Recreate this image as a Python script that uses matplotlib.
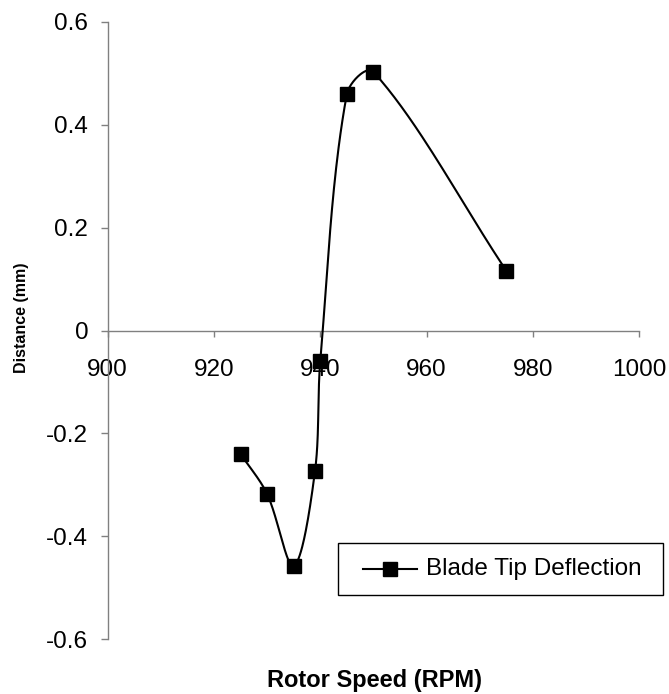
import matplotlib
matplotlib.use("Agg")
import matplotlib.pyplot as plt
import numpy as np
from matplotlib.lines import Line2D
from matplotlib.patches import Rectangle
from matplotlib.ticker import FormatStrFormatter

plt.rcParams["font.family"] = ["Liberation Sans", "DejaVu Sans"]
plt.rcParams["axes.unicode_minus"] = False

# data
rotor_speed = [925, 930, 935, 939, 940, 945, 950, 975]
deflection = [-0.240, -0.318, -0.458, -0.274, -0.060, 0.460, 0.503, 0.116]
x_ticks = [900, 920, 940, 960, 980, 1000]
y_ticks = [-0.6, -0.4, -0.2, 0, 0.2, 0.4, 0.6]
series_name = "Blade Tip Deflection"

W, H = 669, 694
fig = plt.figure(figsize=(W / 100, H / 100), dpi=100)
left, right, top, bottom = 107.6, 639.3, 22.0, 639.0
ax = fig.add_axes([left / W, 1 - bottom / H, (right - left) / W, (bottom - top) / H])
ax.set_xlim(900, 1000)
ax.set_ylim(-0.6, 0.6)


def smooth_curve(xs, ys, n=40):
    # smoothed line like a spreadsheet chart: length-weighted Bezier in pixel space
    aw, ah = right - left, bottom - top
    px = (np.asarray(xs, float) - 900) / 100 * aw
    py = (np.asarray(ys, float) + 0.6) / 1.2 * ah
    pts = np.column_stack([px, py])
    ext = np.vstack([pts[0], pts, pts[-1]])
    out = []
    t = np.linspace(0, 1, n)[:, None]
    for i in range(len(pts) - 1):
        p0, p1, p2, p3 = ext[i], ext[i + 1], ext[i + 2], ext[i + 3]
        d01 = np.hypot(*(p1 - p0))
        d12 = np.hypot(*(p2 - p1))
        d23 = np.hypot(*(p3 - p2))
        c1 = p1 + (p2 - p0) / 3 * d12 / (d01 + d12)
        c2 = p2 - (p3 - p1) / 3 * d12 / (d12 + d23)
        seg = ((1 - t) ** 3) * p1 + 3 * ((1 - t) ** 2) * t * c1 + 3 * (1 - t) * t ** 2 * c2 + t ** 3 * p2
        out.append(seg if i == 0 else seg[1:])
    out = np.vstack(out)
    return out[:, 0] / aw * 100 + 900, out[:, 1] / ah * 1.2 - 0.6


cx, cy = smooth_curve(rotor_speed, deflection)
ax.plot(cx, cy, "-", color="black", lw=1.5, zorder=5, clip_on=False)
ax.plot(rotor_speed, deflection, "s", color="black", ms=9.5, zorder=6, clip_on=False)

for side in ["top", "right"]:
    ax.spines[side].set_visible(False)
ax.spines["bottom"].set_position(("data", 0))
for side in ["left", "bottom"]:
    ax.spines[side].set_color("#808080")
    ax.spines[side].set_linewidth(1.0)

ax.set_xticks(x_ticks)
ax.set_yticks(y_ticks)
ax.yaxis.set_major_formatter(FormatStrFormatter("%g"))
ax.tick_params(axis="x", direction="out", length=4.5, width=1.0, color="#808080",
               labelsize=17.5, pad=16)
ax.tick_params(axis="y", direction="out", length=5, width=1.0, color="#808080",
               labelsize=17.5, pad=9)

fig.text(22 / W, 1 - 318 / H, "Distance (mm)", rotation=90, ha="center", va="center",
         fontsize=11.5, fontweight="bold")
fig.text(375 / W, 1 - 681 / H, "Rotor Speed (RPM)", ha="center", va="center",
         fontsize=17, fontweight="bold")

# legend box drawn in figure pixels, like the spreadsheet legend
def fx(p):
    return p / W


def fy(p):
    return 1 - p / H


fig.patches.append(Rectangle((fx(338), fy(595)), fx(663) - fx(338), fy(543) - fy(595),
                             transform=fig.transFigure, facecolor="white",
                             edgecolor="black", lw=1.0, zorder=10))
fig.lines.append(Line2D([fx(363), fx(417)], [fy(569), fy(569)], color="black", lw=1.5,
                        transform=fig.transFigure, zorder=11))
fig.lines.append(Line2D([fx(390)], [fy(569)], marker="s", ms=9.5, color="black",
                        transform=fig.transFigure, zorder=12))
fig.text(fx(426), fy(569), series_name, ha="left", va="center", fontsize=17.5, zorder=12)

fig.savefig("out.png", dpi=100)
